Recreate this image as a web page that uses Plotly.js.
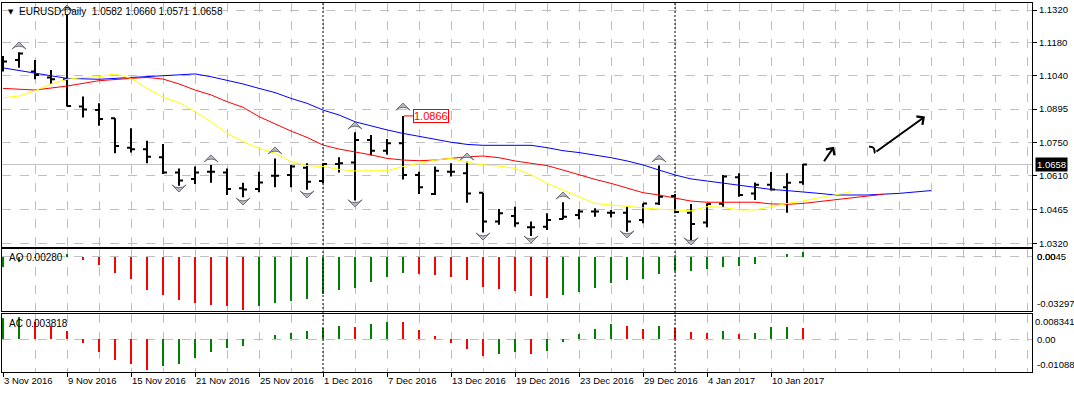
<!DOCTYPE html>
<html>
<head>
<meta charset="utf-8">
<script src="https://cdn.plot.ly/plotly-3.0.1.min.js"></script>
<style>
  html, body { margin: 0; padding: 0; background: #ffffff; }
  #chart { width: 1074px; height: 393px; }
</style>
</head>
<body>
<div id="chart"></div>
<script>
// ---------------- DATA ----------------
const symbolName = 'EURUSD,Daily';
const dates = [
  '2016-11-03','2016-11-04','2016-11-07','2016-11-08','2016-11-09','2016-11-10','2016-11-11',
  '2016-11-14','2016-11-15','2016-11-16','2016-11-17','2016-11-18','2016-11-21','2016-11-22',
  '2016-11-23','2016-11-24','2016-11-25','2016-11-28','2016-11-29','2016-11-30','2016-12-01',
  '2016-12-02','2016-12-05','2016-12-06','2016-12-07','2016-12-08','2016-12-09','2016-12-12',
  '2016-12-13','2016-12-14','2016-12-15','2016-12-16','2016-12-19','2016-12-20','2016-12-21',
  '2016-12-22','2016-12-23','2016-12-26','2016-12-27','2016-12-28','2016-12-29','2016-12-30',
  '2017-01-02','2017-01-03','2017-01-04','2017-01-05','2017-01-06','2017-01-09','2017-01-10',
  '2017-01-11','2017-01-12'
];
const openP  = [1.1099,1.1106,1.1056,1.1031,1.1023,1.0906,1.0891,1.0856,1.0730,1.0723,1.0689,
  1.0623,1.0596,1.0627,1.0623,1.0556,1.0553,1.0610,1.0613,1.0644,1.0587,1.0660,1.0666,1.0763,
  1.0717,1.0749,1.0613,1.0531,1.0627,1.0620,1.0537,1.0413,1.0437,1.0389,1.0391,1.0424,1.0441,
  1.0456,1.0451,1.0451,1.0420,1.0491,1.0523,1.0451,1.0409,1.0490,1.0603,1.0533,1.0571,1.0560,1.0582];
const highP  = [1.1123,1.1139,1.1106,1.1063,1.1300,1.0949,1.0920,1.0856,1.0813,1.0760,1.0746,
  1.0641,1.0649,1.0656,1.0641,1.0580,1.0627,1.0684,1.0656,1.0663,1.0663,1.0689,1.0796,1.0784,
  1.0767,1.0866,1.0627,1.0649,1.0663,1.0670,1.0537,1.0467,1.0477,1.0413,1.0449,1.0496,1.0466,
  1.0470,1.0463,1.0477,1.0491,1.0653,1.0531,1.0489,1.0491,1.0613,1.0620,1.0581,1.0626,1.0620,1.0660];
const lowP   = [1.1056,1.1073,1.1023,1.1003,1.0906,1.0859,1.0824,1.0706,1.0709,1.0663,1.0617,
  1.0567,1.0574,1.0580,1.0527,1.0517,1.0539,1.0560,1.0560,1.0550,1.0577,1.0623,1.0503,1.0696,
  1.0701,1.0594,1.0531,1.0527,1.0606,1.0494,1.0366,1.0399,1.0391,1.0351,1.0377,1.0423,1.0423,
  1.0434,1.0431,1.0370,1.0406,1.0484,1.0449,1.0334,1.0389,1.0477,1.0520,1.0506,1.0546,1.0451,1.0571];
const closeP = [1.1099,1.1134,1.1041,1.1023,1.0909,1.0894,1.0853,1.0737,1.0723,1.0691,1.0623,
  1.0589,1.0623,1.0627,1.0553,1.0551,1.0581,1.0610,1.0649,1.0584,1.0660,1.0663,1.0763,1.0717,
  1.0749,1.0613,1.0560,1.0631,1.0627,1.0534,1.0413,1.0449,1.0406,1.0389,1.0420,1.0434,1.0456,
  1.0456,1.0451,1.0413,1.0491,1.0520,1.0454,1.0403,1.0489,1.0606,1.0527,1.0571,1.0551,1.0580,1.0658];

// Alligator lines (bar index -> price)
const jawIdx = [0,2,4,6,8,10,11,12,13,14,15,16,17,18,19,20,21,22,23,24,25,26,27,28,29,30,31,32,33,
  34,35,36,37,38,39,40,41,42,43,44,45,46,47,48,49,50,51,52,53,54,56,58];
const jawVal = [1.1072,1.1049,1.1027,1.1023,1.1031,1.1041,1.1044,1.1046,1.1034,1.1020,1.1003,1.0984,
  1.0966,1.0941,1.0920,1.0891,1.0870,1.0841,1.0823,1.0806,1.0791,1.0780,1.0766,1.0753,1.0744,1.0740,
  1.0740,1.0740,1.0740,1.0730,1.0717,1.0709,1.0699,1.0687,1.0673,1.0656,1.0634,1.0613,1.0596,1.0587,
  1.0577,1.0566,1.0559,1.0551,1.0546,1.0541,1.0534,1.0527,1.0527,1.0527,1.0534,1.0546];
const teethIdx = [0,2,4,6,8,9,10,11,12,13,14,15,16,17,18,19,20,21,22,23,24,25,26,27,28,29,30,31,32,
  33,34,35,36,37,38,39,40,41,42,43,44,45,46,47,48,49,50,51,52,53,54,55];
const teethVal = [1.0984,1.0977,1.0994,1.1017,1.1027,1.1031,1.1024,1.1003,1.0977,1.0956,1.0927,1.0903,
  1.0863,1.0832,1.0801,1.0774,1.0741,1.0724,1.0713,1.0699,1.0684,1.0677,1.0674,1.0677,1.0684,1.0691,
  1.0694,1.0687,1.0673,1.0663,1.0653,1.0634,1.0613,1.0594,1.0577,1.0556,1.0537,1.0527,1.0513,1.0501,
  1.0496,1.0496,1.0496,1.0496,1.0489,1.0487,1.0491,1.0499,1.0506,1.0513,1.0520,1.0530];
const lipsIdx = [0,1,2,3,4,5,6,7,8,9,10,11,12,13,14,15,16,17,18,19,20,21,22,23,24,25,26,27,28,29,30,
  31,32,33,34,35,36,37,38,39,40,41,42,43,44,45,46,47,48,49,50,51,52,53];
const lipsVal = [1.0944,1.0951,1.0974,1.1003,1.1023,1.1031,1.1034,1.1046,1.1027,1.0984,1.0946,1.0923,
  1.0884,1.0841,1.0791,1.0756,1.0727,1.0706,1.0670,1.0653,1.0649,1.0637,1.0630,1.0630,1.0631,1.0649,
  1.0663,1.0677,1.0684,1.0667,1.0656,1.0651,1.0641,1.0613,1.0577,1.0549,1.0520,1.0491,1.0484,1.0477,
  1.0470,1.0466,1.0463,1.0459,1.0477,1.0474,1.0463,1.0463,1.0477,1.0491,1.0501,1.0516,1.0527,1.0541];

// Fractals (bar index, marker price)
const fractalUpIdx = [1,4,13,17,22,25,29,35,41];
const fractalUpVal = [1.1183,1.1341,1.0699,1.0733,1.0840,1.0921,1.0707,1.0540,1.0699];
const fractalDnIdx = [11,15,19,22,30,33,39,43];
const fractalDnVal = [1.0540,1.0484,1.0514,1.0476,1.0334,1.0321,1.0343,1.0313];

// Awesome Oscillator and Accelerator Oscillator
const aoVal = [-0.0067,-0.0036,-0.0012,-0.0004,0.0014,-0.0022,-0.0053,-0.0103,-0.0140,-0.0207,-0.0237,
  -0.0268,-0.0286,-0.0298,-0.0304,-0.03297,-0.0304,-0.0286,-0.0274,-0.0261,-0.0231,-0.0207,-0.0195,
  -0.0158,-0.0128,-0.0103,-0.0109,-0.0110,-0.0128,-0.0146,-0.0188,-0.0201,-0.0213,-0.0243,-0.0255,
  -0.0237,-0.0219,-0.0195,-0.0164,-0.0146,-0.0140,-0.0109,-0.0091,-0.0088,-0.0079,-0.0061,-0.0055,
  -0.0043,-0.0004,0.0018,0.0028];
const acVal = [0.0070,0.0075,0.0057,0.0042,0.0027,-0.0013,-0.0043,-0.0070,-0.0083,-0.0103,-0.0090,
  -0.0083,-0.0063,-0.0043,-0.0030,-0.0023,0.0002,0.0013,0.0020,0.0027,0.0037,0.0043,0.0040,0.0050,
  0.0057,0.0056,0.0030,0.0010,-0.0013,-0.0033,-0.0057,-0.0050,-0.0043,-0.0050,-0.0040,-0.0010,0.0017,
  0.0033,0.0050,0.0043,0.0033,0.0043,0.0037,0.0023,0.0020,0.0027,0.0017,0.0020,0.0040,0.0041,0.003818];

// Axis labels
const priceTicks = [1.1320,1.1180,1.1040,1.0895,1.0750,1.0610,1.0465,1.0320];
const tickLabels = ['3 Nov 2016','9 Nov 2016','15 Nov 2016','21 Nov 2016','25 Nov 2016','1 Dec 2016',
  '7 Dec 2016','13 Dec 2016','19 Dec 2016','23 Dec 2016','29 Dec 2016','4 Jan 2017','10 Jan 2017'];
const aoScaleText = ['0.0045','0.00','-0.03297'];
const acScaleText = ['0.008341','0.00','-0.01088'];
const aoLabel = 'AO 0.00280';
const acLabel = 'AC 0.003818';
const markedHigh = 1.0866;

// ---------------- BUILD ----------------
const idx = dates.map((d, i) => i);
const labelStep = 4;
const labelIdx = tickLabels.map((t, k) => k * labelStep);
const GREEN = '#008000', RED = '#ff0000';
const barColors = v => v.map((x, i) => (i === 0 || x > v[i - 1]) ? GREEN : RED);
const last = closeP.length - 1;
const FONT = 'Liberation Sans, Arial, sans-serif';

// month separators
const monthStarts = [];
for (let i = 1; i < dates.length; i++) {
  if (dates[i].slice(5, 7) !== dates[i - 1].slice(5, 7)) monthStarts.push(i);
}
const markedIdx = highP.indexOf(markedHigh);

const fractalMarker = angle => ({ symbol: 'arrow-wide', angle: angle, size: 10, color: '#b8bcc2',
  line: { color: '#6c7076', width: 1 } });

const traces = [
  { type: 'scatter', mode: 'lines', x: jawIdx, y: jawVal, line: { color: '#0000ff', width: 1 }, hoverinfo: 'skip', xaxis: 'x', yaxis: 'y' },
  { type: 'scatter', mode: 'lines', x: teethIdx, y: teethVal, line: { color: '#ff0000', width: 1 }, hoverinfo: 'skip', xaxis: 'x', yaxis: 'y' },
  { type: 'scatter', mode: 'lines', x: lipsIdx, y: lipsVal, line: { color: '#ffff00', width: 1 }, hoverinfo: 'skip', xaxis: 'x', yaxis: 'y' },
  { type: 'ohlc', x: idx, open: openP, high: highP, low: lowP, close: closeP,
    increasing: { line: { color: '#000000', width: 2 } },
    decreasing: { line: { color: '#000000', width: 2 } },
    tickwidth: 0.25, hoverinfo: 'skip', xaxis: 'x', yaxis: 'y' },
  { type: 'scatter', mode: 'markers', x: fractalUpIdx, y: fractalUpVal, marker: fractalMarker(0),
    hoverinfo: 'skip', xaxis: 'x', yaxis: 'y' },
  { type: 'scatter', mode: 'markers', x: fractalDnIdx, y: fractalDnVal, marker: fractalMarker(180),
    hoverinfo: 'skip', xaxis: 'x', yaxis: 'y' },
  { type: 'bar', x: idx, y: aoVal, width: 0.13, marker: { color: barColors(aoVal), line: { width: 0 } },
    hoverinfo: 'skip', xaxis: 'x2', yaxis: 'y2' },
  { type: 'bar', x: idx, y: acVal, width: 0.13, marker: { color: barColors(acVal), line: { width: 0 } },
    hoverinfo: 'skip', xaxis: 'x3', yaxis: 'y3' }
];

const gridStyle = { showgrid: true, gridcolor: '#c0c0c0', griddash: 'dash', gridwidth: 1 };
const frame = { showline: true, mirror: true, linecolor: '#000000', linewidth: 1, zeroline: false };
const xRange = [-0.0625, 64.3125];
const xBase = Object.assign({ range: xRange, tickmode: 'linear', tick0: 0, dtick: 2, showticklabels: false,
  ticks: '', fixedrange: true }, gridStyle, frame);

const layout = {
  width: 1074, height: 393,
  margin: { l: 2, r: 42, t: 3, b: 20, pad: 0 },
  paper_bgcolor: '#ffffff', plot_bgcolor: '#ffffff',
  showlegend: false, bargap: 0,
  font: { family: FONT, size: 9.5, color: '#000000' },
  xaxis: Object.assign({}, xBase, { anchor: 'y', domain: [0, 1], rangeslider: { visible: false } }),
  xaxis2: Object.assign({}, xBase, { anchor: 'y2', domain: [0, 1], matches: 'x' }),
  xaxis3: Object.assign({}, gridStyle, frame, {
    anchor: 'y3', domain: [0, 1], matches: 'x', range: xRange, fixedrange: true,
    tickmode: 'array', tickvals: labelIdx, ticktext: tickLabels,
    ticks: 'outside', ticklen: 4, tickcolor: '#000000', ticklabelposition: 'outside right',
    tickfont: { family: FONT, size: 9.5, color: '#000000' },
    minor: { tickmode: 'linear', tick0: 0, dtick: 2, showgrid: true, gridcolor: '#c0c0c0', griddash: 'dash', ticks: '' }
  }),
  yaxis: Object.assign({}, gridStyle, frame, {
    domain: [0.3405, 1], side: 'right', range: [1.03041, 1.13500], fixedrange: true,
    tickmode: 'array', tickvals: priceTicks, ticktext: priceTicks.map(v => v.toFixed(4)),
    ticks: 'outside', ticklen: 4, tickcolor: '#000000',
    tickfont: { family: FONT, size: 9.5, color: '#000000' }
  }),
  yaxis2: Object.assign({}, gridStyle, frame, {
    domain: [0.1676, 0.3351], side: 'right', range: [-0.0333, 0.0046], fixedrange: true,
    tickmode: 'array', tickvals: [0], showticklabels: false, ticks: ''
  }),
  yaxis3: Object.assign({}, gridStyle, frame, {
    domain: [0.0027, 0.1595], side: 'right', range: [-0.01088, 0.008341], fixedrange: true,
    tickmode: 'array', tickvals: [0], showticklabels: false, ticks: ''
  }),
  shapes: [
    // current price line
    { type: 'line', xref: 'x domain', x0: 0, x1: 1, yref: 'y', y0: closeP[last], y1: closeP[last],
      line: { color: '#c0c0c0', width: 1 }, layer: 'below' },
    // squiggle start of the long hand-drawn arrow
    { type: 'path', xref: 'x', yref: 'y', path: 'M 54.125,1.0734 C 54.55,1.0738 54.44,1.0711 54.5,1.0706',
      line: { color: '#000000', width: 2 } }
  ].concat(monthStarts.map(m => ({
    type: 'line', xref: 'x', x0: m, x1: m, yref: 'paper', y0: 0, y1: 1,
    line: { color: '#000000', width: 1, dash: '2px,2px' }
  }))),
  annotations: [
    { xref: 'paper', yref: 'paper', x: 0, y: 1, xanchor: 'left', yanchor: 'top', xshift: 4, yshift: -3,
      text: '▼', showarrow: false, font: { family: 'DejaVu Sans', size: 7, color: '#000000' } },
    { xref: 'paper', yref: 'paper', x: 0, y: 1, xanchor: 'left', yanchor: 'top', xshift: 15, yshift: -1,
      text: symbolName + '  ' + [openP[last], highP[last], lowP[last], closeP[last]].map(v => v.toFixed(4)).join(' '),
      showarrow: false, font: { family: FONT, size: 10, color: '#000000' } },
    // current price tag
    { xref: 'paper', yref: 'y', x: 1, y: closeP[last], xanchor: 'left', yanchor: 'middle', xshift: 3,
      text: closeP[last].toFixed(4), showarrow: false, bgcolor: '#000000', borderpad: 1,
      font: { family: FONT, size: 9.5, color: '#ffffff' } },
    // marked high label
    { xref: 'x', yref: 'y', x: markedIdx, y: markedHigh, text: markedHigh.toFixed(4),
      showarrow: true, arrowhead: 0, arrowwidth: 1, arrowcolor: '#ff0000', ax: 28, ay: 0, standoff: 1,
      bordercolor: '#ff0000', borderwidth: 1, borderpad: 0, bgcolor: '#ffffff',
      font: { family: FONT, size: 11, color: '#ff0000' } },
    // hand-drawn arrows
    { xref: 'x', yref: 'y', x: 51.94, y: 1.0734, text: '', showarrow: true, ax: -11, ay: 16,
      arrowhead: 4, arrowsize: 1, arrowwidth: 2, arrowcolor: '#000000' },
    { xref: 'x', yref: 'y', x: 57.62, y: 1.0863, text: '', showarrow: true, ax: -50, ay: 36,
      arrowhead: 4, arrowsize: 1, arrowwidth: 2, arrowcolor: '#000000' },
    // indicator names
    { xref: 'paper', yref: 'y2 domain', x: 0, y: 1, xanchor: 'left', yanchor: 'top', xshift: 5, yshift: -1,
      text: aoLabel, showarrow: false, font: { family: FONT, size: 10, color: '#000000' } },
    { xref: 'paper', yref: 'y3 domain', x: 0, y: 1, xanchor: 'left', yanchor: 'top', xshift: 5, yshift: -2,
      text: acLabel, showarrow: false, font: { family: FONT, size: 10, color: '#000000' } },
    // subwindow scale labels
    { xref: 'paper', yref: 'y2 domain', x: 1, y: 1, xanchor: 'left', yanchor: 'top', xshift: 3,
      text: aoScaleText[0], showarrow: false, font: { family: FONT, size: 9.5 } },
    { xref: 'paper', yref: 'y2', x: 1, y: 0, xanchor: 'left', yanchor: 'middle', xshift: 3,
      text: aoScaleText[1], showarrow: false, font: { family: FONT, size: 9.5 } },
    { xref: 'paper', yref: 'y2 domain', x: 1, y: 0, xanchor: 'left', yanchor: 'bottom', xshift: 3,
      text: aoScaleText[2], showarrow: false, font: { family: FONT, size: 9.5 } },
    { xref: 'paper', yref: 'y3 domain', x: 1, y: 1, xanchor: 'left', yanchor: 'top', xshift: 1,
      text: acScaleText[0], showarrow: false, font: { family: FONT, size: 9.5 } },
    { xref: 'paper', yref: 'y3', x: 1, y: 0, xanchor: 'left', yanchor: 'middle', xshift: 3,
      text: acScaleText[1], showarrow: false, font: { family: FONT, size: 9.5 } },
    { xref: 'paper', yref: 'y3 domain', x: 1, y: 0, xanchor: 'left', yanchor: 'bottom', xshift: 3,
      text: acScaleText[2], showarrow: false, font: { family: FONT, size: 9.5 } }
  ]
};

Plotly.newPlot('chart', traces, layout, { staticPlot: true, displayModeBar: false });
</script>
</body>
</html>
